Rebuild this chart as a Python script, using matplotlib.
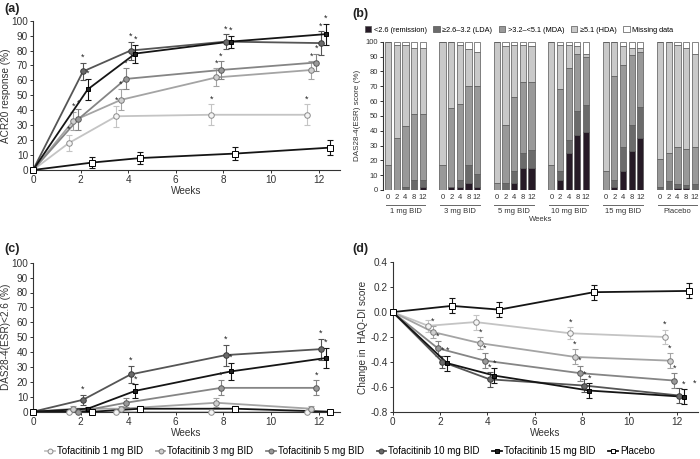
import matplotlib
matplotlib.use('Agg')
import matplotlib.pyplot as plt
from matplotlib.patches import Patch
from matplotlib.lines import Line2D

plt.rcParams['font.family'] = ['Liberation Sans', 'DejaVu Sans']
plt.rcParams['axes.unicode_minus'] = False

# ---- data ----
series_names = ['Tofacitinib 1 mg BID', 'Tofacitinib 3 mg BID', 'Tofacitinib 5 mg BID',
                'Tofacitinib 10 mg BID', 'Tofacitinib 15 mg BID', 'Placebo']
weeks = [2, 4, 8, 12]

# (a) ACR20 response (%)
acr20_vals = [[18, 36, 37, 37], [33, 47, 62, 67], [34, 61, 67, 72],
              [66, 80, 86, 85], [54, 78, 86, 91], [5, 8, 11, 15]]
acr20_err = [[5.5, 7, 7, 7], [6, 7, 6, 6], [7, 7, 6, 6],
             [6, 6, 5, 8], [7, 6, 4, 7], [3.5, 4, 4.5, 5]]
acr20_sig = [[1, 1, 1, 1], [1, 1, 1, 1], [1, 1, 1, 1],
             [1, 1, 1, 1], [1, 1, 1, 1], [0, 0, 0, 0]]

# (c) DAS28-4(ESR) < 2.6 (%)
das_vals = [[0, 0, 0, 0], [2, 2, 6, 2], [0, 6, 16, 16],
            [8, 25, 38, 42], [2, 14, 27, 36], [0, 2, 2, 0]]
das_err = [[0, 0, 0, 0], [1.5, 1.5, 3, 1.5], [0, 3, 5, 5],
           [3.5, 6, 7, 7], [1, 4.5, 6, 7], [0, 1.5, 1.5, 0]]
das_sig = [[0, 0, 0, 0], [0, 0, 0, 0], [0, 0, 1, 1],
           [1, 1, 1, 1], [0, 1, 1, 1], [0, 0, 0, 0]]

# (d) change in HAQ-DI
haq_vals = [[-0.11, -0.08, -0.17, -0.20], [-0.16, -0.25, -0.36, -0.39],
            [-0.29, -0.39, -0.49, -0.55], [-0.40, -0.54, -0.59, -0.67],
            [-0.41, -0.51, -0.63, -0.68], [0.05, 0.02, 0.16, 0.17]]
haq_err = [[0.05, 0.06, 0.05, 0.06], [0.05, 0.05, 0.06, 0.06],
           [0.06, 0.06, 0.06, 0.06], [0.05, 0.06, 0.05, 0.06],
           [0.06, 0.06, 0.06, 0.06], [0.06, 0.06, 0.06, 0.06]]
haq_sig = [[0, 0, 1, 1], [1, 1, 1, 1], [1, 1, 1, 1],
           [1, 1, 1, 0], [1, 1, 1, 1], [0, 0, 0, 0]]

# (b) DAS28-4(ESR) categories (%), per group, per week 0/2/4/8/12
groups = ['1 mg BID', '3 mg BID', '5 mg BID', '10 mg BID', '15 mg BID', 'Placebo']
bar_weeks = ['0', '2', '4', '8', '12']
remission = [[0, 0, 0, 0, 2], [0, 2, 2, 5, 2], [0, 0, 5, 15, 15],
             [0, 7, 25, 37, 39], [0, 2, 13, 26, 35], [0, 0, 1.5, 1.5, 0]]
lda = [[0, 0, 2, 7, 5], [0, 0, 5, 12, 9], [0, 5, 8, 10, 12],
       [0, 6, 9, 16, 18], [0, 5, 16, 18, 21], [2, 6, 2.5, 2, 4]]
mda = [[17, 35, 41, 44, 44], [17, 53, 51, 53, 59], [5, 39, 50, 48, 46],
       [17, 55, 48, 39, 33], [13, 70, 55, 47, 37], [19, 19, 25, 24, 25]]
hda = [[83, 63, 55, 45, 45], [83, 45, 40, 25, 23], [95, 53, 35, 25, 24],
       [83, 30, 16, 5, 2], [87, 23, 13, 5, 3], [79, 75, 69, 68.5, 63]]
missing = [[0, 2, 2, 4, 4], [0, 0, 2, 5, 7], [0, 3, 2, 2, 3],
           [0, 2, 2, 3, 8], [0, 0, 3, 4, 4], [0, 0, 2, 4, 8]]
cat_labels = ['<2.6 (remission)', '\u22652.6\u20133.2 (LDA)', '>3.2\u2013<5.1 (MDA)',
              '\u22655.1 (HDA)', 'Missing data']

# ---- styles ----
offsets = [-0.5, -0.3, -0.1, 0.1, 0.3, 0.5]
line_colors = ['#c4c4c4', '#a4a4a4', '#858585', '#555555', '#151515', '#151515']
face_colors = ['#f4f4f4', '#cfcfcf', '#9a9a9a', '#6a6a6a', '#202020', '#ffffff']
edge_colors = ['#8c8c8c', '#7a7a7a', '#5a5a5a', '#3a3a3a', '#000000', '#000000']
markers = ['o', 'o', 'o', 'o', 's', 's']
msizes = [4.0, 4.0, 4.0, 4.0, 3.2, 4.0]
cat_colors = ['#261a26', '#6b6b6b', '#999999', '#c9c9c9', '#ffffff']

W, H = 700, 459
fig = plt.figure(figsize=(W / 100, H / 100), dpi=100)


def rect(x0, x1, ytop, ybot):
    return [x0 / W, 1 - ybot / H, (x1 - x0) / W, (ybot - ytop) / H]


def style_axes(ax, labelsize=7.2):
    for s in ['top', 'right']:
        ax.spines[s].set_visible(False)
    for s in ['left', 'bottom']:
        ax.spines[s].set_linewidth(0.8)
        ax.spines[s].set_color('#333333')
    ax.tick_params(direction='out', length=2.5, width=0.7, labelsize=labelsize,
                   colors='#333333', pad=1)


def line_panel(ax, vals, errs, sigs, star_off):
    for i in range(6):
        x = [0] + [w + offsets[i] for w in weeks]
        y = [0] + vals[i]
        ax.plot(x, y, color=line_colors[i], lw=1.3, zorder=2 + i * 0.1, clip_on=False)
        ax.errorbar([w + offsets[i] for w in weeks], vals[i], yerr=errs[i], fmt='none',
                    ecolor=line_colors[i], elinewidth=0.8, capsize=2, capthick=0.8,
                    zorder=2 + i * 0.1, clip_on=False)
        ax.plot(x, y, ls='none', marker=markers[i], ms=msizes[i], mfc=face_colors[i],
                mec=edge_colors[i], mew=0.7, zorder=3 + i * 0.1, clip_on=False)
        for j, w in enumerate(weeks):
            if sigs[i][j]:
                ax.text(w + offsets[i], vals[i][j] + errs[i][j] + star_off, '*',
                        ha='center', va='center', fontsize=6.5, color='#222222')
    ax.set_xticks([0, 2, 4, 6, 8, 10, 12])
    ax.set_xlabel('Weeks', fontsize=7.2, labelpad=1, color='#333333')


# (a)
ax_a = fig.add_axes(rect(33, 340, 20.7, 170))
line_panel(ax_a, acr20_vals, acr20_err, acr20_sig, 3.5)
ax_a.set_xlim(0, 12.9)
ax_a.set_ylim(0, 100)
ax_a.set_yticks(range(0, 101, 10))
ax_a.set_ylabel('ACR20 response (%)', fontsize=7.2, labelpad=0.5, color='#333333')
style_axes(ax_a)

# (c)
ax_c = fig.add_axes(rect(33, 340, 262.7, 411.7))
line_panel(ax_c, das_vals, das_err, das_sig, 3.5)
ax_c.set_xlim(0, 12.9)
ax_c.set_ylim(0, 100)
ax_c.set_yticks(range(0, 101, 10))
ax_c.set_ylabel('DAS28-4(ESR)<2.6 (%)', fontsize=7.2, labelpad=0.5, color='#333333')
style_axes(ax_c)

# (d)
ax_d = fig.add_axes(rect(392.7, 698, 262.3, 411.7))
line_panel(ax_d, haq_vals, haq_err, haq_sig, 0.04)
ax_d.text(12.77, -0.57, '*', ha='center', va='center', fontsize=6.5, color='#222222')
ax_d.set_xlim(0, 12.9)
ax_d.set_ylim(-0.8, 0.4)
ax_d.set_yticks([-0.8, -0.6, -0.4, -0.2, 0.0, 0.2, 0.4])
ax_d.set_yticklabels(['%.1f' % v for v in [-0.8, -0.6, -0.4, -0.2, 0.0, 0.2, 0.4]])
ax_d.set_ylabel('Change in  HAQ-DI score', fontsize=7.2, labelpad=2, color='#333333')
style_axes(ax_d)

# (b)
ax_b = fig.add_axes(rect(383, 699, 41.7, 190))
gstep = 6.3
xpos, xlab = [], []
for g in range(len(groups)):
    xs = [g * gstep + k for k in range(5)]
    bottom = [0] * 5
    for c, cat in enumerate([remission, lda, mda, hda, missing]):
        ax_b.bar(xs, cat[g], width=0.72, bottom=bottom, color=cat_colors[c],
                 edgecolor='#555555', linewidth=0.5, zorder=2)
        bottom = [b + v for b, v in zip(bottom, cat[g])]
    xpos += xs
    xlab += bar_weeks
    ax_b.plot([xs[0] - 0.3, xs[-1] + 0.3], [-10.3, -10.3], color='#666666', lw=0.7,
              clip_on=False)
    ax_b.text(xs[2], -14.8, groups[g], ha='center', va='center', fontsize=5.5,
              color='#333333')
ax_b.set_xticks(xpos)
ax_b.set_xticklabels(xlab)
ax_b.set_xlim(-0.6, 36.0)
ax_b.set_ylim(0, 100)
ax_b.set_yticks(range(0, 101, 10))
style_axes(ax_b, labelsize=5.5)
ax_b.spines['bottom'].set_visible(False)
ax_b.tick_params(axis='x', length=0, pad=3)
ax_b.set_xlabel('Weeks', fontsize=5.5, labelpad=11, color='#333333')
ax_b.set_ylabel('DAS28-4(ESR) score (%)', fontsize=5.8, labelpad=3, color='#333333')
cat_handles = [Patch(facecolor=cat_colors[c], edgecolor='#555555', linewidth=0.5)
               for c in range(5)]
ax_b.legend(cat_handles, cat_labels, loc='center', bbox_to_anchor=(0.43, 1.08),
            ncol=5, frameon=False, fontsize=5.3, handlelength=0.9, handleheight=0.9,
            handletextpad=0.3, columnspacing=0.9)

# panel letters
for txt, x, y in [('(a)', 4, 9), ('(b)', 352, 14), ('(c)', 4, 249), ('(d)', 352, 249)]:
    fig.text(x / W, 1 - y / H, txt, fontsize=9, fontweight='bold', va='center',
             color='#222222')

# bottom legend
leg_handles = [Line2D([0], [0], color=line_colors[i], lw=1.3, marker=markers[i],
                      ms=msizes[i] - 0.5, mfc=face_colors[i], mec=edge_colors[i], mew=0.7)
               for i in range(6)]
fig.legend(leg_handles, series_names, loc='center', bbox_to_anchor=(0.5, 1 - 451 / H),
           ncol=6, frameon=False, fontsize=7, handlelength=1.0, handletextpad=0.2,
           columnspacing=1.3)

fig.savefig('out.png', dpi=100)
